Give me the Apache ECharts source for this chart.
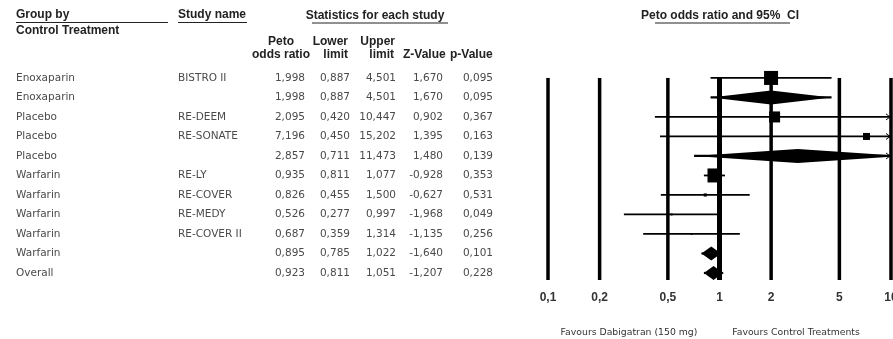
<!DOCTYPE html>
<html>
<head>
<meta charset="utf-8">
<script src="https://cdn.jsdelivr.net/npm/echarts@6/dist/echarts.min.js"></script>
<style>
  html, body { margin: 0; padding: 0; background: #fff; }
  #chart { width: 893px; height: 339px; }
</style>
</head>
<body>
<div id="chart"></div>
<script>
// Peto odds ratios of dabigatran (150 mg) vs control treatments, by control group
const groups = ['Enoxaparin', 'Enoxaparin', 'Placebo', 'Placebo', 'Placebo',
  'Warfarin', 'Warfarin', 'Warfarin', 'Warfarin', 'Warfarin', 'Overall'];
const studies = ['BISTRO II', '', 'RE-DEEM', 'RE-SONATE', '',
  'RE-LY', 'RE-COVER', 'RE-MEDY', 'RE-COVER II', '', ''];
const oddsRatio = [1.998, 1.998, 2.095, 7.196, 2.857, 0.935, 0.826, 0.526, 0.687, 0.895, 0.923];
const lowerLimit = [0.887, 0.887, 0.420, 0.450, 0.711, 0.811, 0.455, 0.277, 0.359, 0.785, 0.811];
const upperLimit = [4.501, 4.501, 10.447, 15.202, 11.473, 1.077, 1.500, 0.997, 1.314, 1.022, 1.051];
const zValue = [1.670, 1.670, 0.902, 1.395, 1.480, -0.928, -0.627, -1.968, -1.135, -1.640, -1.207];
const pValue = [0.095, 0.095, 0.367, 0.163, 0.139, 0.353, 0.531, 0.049, 0.256, 0.101, 0.228];
// relative weight of each study inside its group (summary rows are drawn as diamonds)
const relWeight = [100, 100, 62, 25, 100, 100, 5, 2, 2, 100, 100];
const isSummary = [false, true, false, false, true, false, false, false, false, true, true];

const tickValues = [0.1, 0.2, 0.5, 1, 2, 5, 10];
const tickLabels = ['0,1', '0,2', '0,5', '1', '2', '5', '10'];

const fmt = v => v.toFixed(3).replace('.', ',');
const Y_MAX = 10.36;
const X_MAX = 10;

const chart = echarts.init(document.getElementById('chart'), null, { renderer: 'canvas' });

const headFont = { fontFamily: 'Liberation Sans, Arial, sans-serif', fontWeight: 'bold', fontSize: 12, fill: '#222' };
const cellFont = { fontFamily: 'DejaVu Sans, sans-serif', fontSize: 10.5, fill: '#4a4a4a' };

function txt(text, x, y, align, extra) {
  return {
    type: 'text', x: x, y: y, silent: true,
    style: Object.assign({ text: text, align: align || 'left', verticalAlign: 'middle' }, headFont, extra || {})
  };
}
function hline(x1, x2, y, w) {
  return { type: 'line', silent: true, shape: { x1: x1, y1: y, x2: x2, y2: y }, style: { stroke: '#222', lineWidth: w || 1.2 } };
}

// vertical reference lines and their labels
const tickSeries = {
  type: 'custom',
  clip: false,
  silent: true,
  data: tickValues.map((v, i) => [v, 0, i]),
  encode: { x: 0, y: 1 },
  renderItem: function (params, api) {
    const v = api.value(0);
    const idx = api.value(2);
    const top = api.coord([v, 0]);
    const bottom = api.coord([v, Y_MAX]);
    return {
      type: 'group',
      children: [
        { type: 'line', shape: { x1: top[0], y1: top[1], x2: bottom[0], y2: bottom[1] },
          style: { stroke: '#000', lineWidth: v === 1 ? 5 : 3.5 } },
        { type: 'text', x: top[0], y: bottom[1] + 18,
          style: { text: tickLabels[idx], align: 'center', verticalAlign: 'middle',
            fontFamily: 'Liberation Sans, Arial, sans-serif', fontWeight: 'bold', fontSize: 12, fill: '#333' } }
      ]
    };
  }
};

// confidence intervals, study squares and summary diamonds
const forestSeries = {
  type: 'custom',
  clip: true,
  silent: true,
  data: oddsRatio.map((v, i) => [v, i, lowerLimit[i], upperLimit[i], relWeight[i], isSummary[i] ? 1 : 0]),
  encode: { x: 0, y: 1 },
  renderItem: function (params, api) {
    const row = api.value(1);
    const est = api.coord([api.value(0), row]);
    const lo = api.coord([api.value(2), row]);
    const upper = api.value(3);
    const hi = api.coord([upper, row]);
    const edge = api.coord([X_MAX, row]);
    const summary = api.value(5) === 1;
    const children = [];
    children.push({ type: 'line', shape: { x1: lo[0], y1: lo[1], x2: hi[0], y2: hi[1] },
      style: { stroke: '#000', lineWidth: summary ? 2.2 : 1.8 } });
    if (upper > X_MAX) {
      const ex = edge[0] - 1;
      children.push({ type: 'polyline', shape: { points: [[ex - 4, edge[1] - 3], [ex, edge[1]], [ex - 4, edge[1] + 3]] },
        style: { stroke: '#000', lineWidth: 1, fill: null } });
    }
    if (summary) {
      const h = 7;
      children.push({ type: 'polygon',
        shape: { points: [[lo[0], lo[1]], [est[0], est[1] - h], [hi[0], hi[1]], [est[0], est[1] + h]] },
        style: { fill: '#000' } });
    } else {
      const s = 1.4 * Math.sqrt(api.value(4));
      children.push({ type: 'rect', shape: { x: est[0] - s / 2, y: est[1] - s / 2, width: s, height: s },
        style: { fill: '#000' } });
    }
    return { type: 'group', children: children };
  }
};

// the statistics table, one line per row of the plot
const columns = [
  { x: 305, get: i => fmt(oddsRatio[i]) },
  { x: 350, get: i => fmt(lowerLimit[i]) },
  { x: 396, get: i => fmt(upperLimit[i]) },
  { x: 443, get: i => fmt(zValue[i]) },
  { x: 493, get: i => fmt(pValue[i]) }
];
const tableSeries = {
  type: 'custom',
  clip: false,
  silent: true,
  data: groups.map((g, i) => [1, i]),
  encode: { x: 0, y: 1 },
  renderItem: function (params, api) {
    const i = api.value(1);
    const y = api.coord([1, i])[1];
    const kids = [
      { type: 'text', x: 16, y: y, style: Object.assign({ text: groups[i], align: 'left', verticalAlign: 'middle' }, cellFont) },
      { type: 'text', x: 178, y: y, style: Object.assign({ text: studies[i], align: 'left', verticalAlign: 'middle' }, cellFont) }
    ];
    columns.forEach(c => kids.push({ type: 'text', x: c.x, y: y,
      style: Object.assign({ text: c.get(i), align: 'right', verticalAlign: 'middle' }, cellFont) }));
    return { type: 'group', children: kids };
  }
};

const footFont = { fontFamily: 'DejaVu Sans, sans-serif', fontWeight: 'normal', fontSize: 9.3, fill: '#333' };

chart.setOption({
  animation: false,
  backgroundColor: '#fff',
  grid: { left: 548, right: 2, top: 60, bottom: 59 },
  xAxis: { type: 'log', logBase: 10, min: 0.1, max: 10, show: false },
  yAxis: { type: 'value', inverse: true, min: -0.92, max: Y_MAX, show: false },
  series: [tickSeries, forestSeries, tableSeries],
  graphic: [
    txt('Group by', 16, 15),
    hline(16, 168, 22.5),
    txt('Control Treatment', 16, 31),
    txt('Study name', 178, 15),
    hline(178, 247, 22.5),
    txt('Statistics for each study', 375, 16, 'center'),
    hline(312, 448, 23),
    txt('Peto', 281, 42, 'center'),
    txt('odds ratio', 281, 55, 'center'),
    txt('Lower', 348, 42, 'right'),
    txt('limit', 348, 55, 'right'),
    txt('Upper', 395, 42, 'right'),
    txt('limit', 394, 55, 'right'),
    txt('Z-Value', 403, 55, 'left'),
    txt('p-Value', 450, 55, 'left'),
    txt('Peto odds ratio and 95%  CI', 720, 16, 'center'),
    hline(655, 790, 23),
    txt('Favours Dabigatran (150 mg)', 629, 333, 'center', footFont),
    txt('Favours Control Treatments', 796, 333, 'center', footFont)
  ]
});
</script>
</body>
</html>
